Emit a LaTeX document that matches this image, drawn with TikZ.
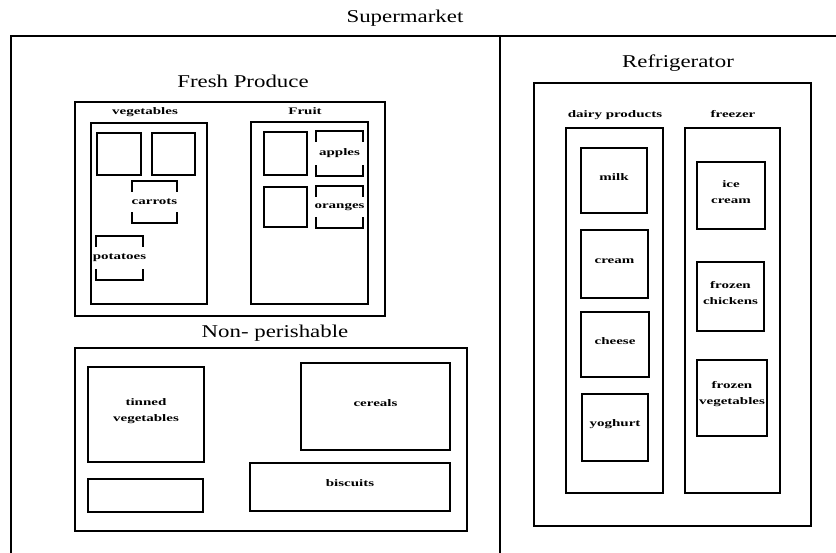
\documentclass[tikz,border=0pt]{standalone}
\usepackage{fontspec}
\setmainfont{Liberation Serif}
\newfontfamily\headfont{Liberation Serif}[FakeStretch=1.27]
\newfontfamily\tagfont{Liberation Serif}[FakeStretch=1.5]
\usetikzlibrary{fit,calc}

\tikzset{
  wall/.style={line width=1.3pt},
  bin/.style={draw, line width=2.2pt, inner sep=0pt, align=center,
    font=\tagfont\bfseries\fontsize{10}{16}\selectfont},
  openbin/.style={bin, draw=none},
  bracket/.style={line width=2.2pt},
  heading/.style={font=\headfont\fontsize{18}{20}\selectfont, inner sep=0pt, anchor=base},
  tag/.style={font=\tagfont\bfseries\fontsize{10}{16}\selectfont, inner sep=0pt, align=center},
  tagbase/.style={tag, anchor=base},
}

% a box whose sides are open in the middle, so its label breaks them
\newcommand\openside[1]{%
  \draw[bracket] ($(#1.north west)+(0,11)$) -- (#1.north west) -- (#1.north east) -- ($(#1.north east)+(0,11)$);
  \draw[bracket] ($(#1.south west)+(0,-11)$) -- (#1.south west) -- (#1.south east) -- ($(#1.south east)+(0,-11)$);}

\begin{document}
\begin{tikzpicture}[x=1pt, y=-1pt]
\useasboundingbox (0,0) rectangle (836,553);

% store walls
\coordinate (tl) at (11,36);
\coordinate (tr) at (836,36);
\coordinate (bl) at (11,553);
\coordinate (dtop) at (500,36);
\coordinate (dbot) at (500,553);
\draw[wall] (bl) -- (tl) -- (tr);
\draw[wall] (dtop) -- (dbot);
\node[heading] (super) at (405,22.5) {Supermarket};

% fresh produce
\node[heading] (freshT) at (243,88) {Fresh Produce};
\node[bin, fit={(75,102) (385,316)}] (fresh) {};
\node[tagbase] (vegT) at (145,115) {vegetables};
\node[bin, fit={(91,123) (207,304)}] (veg) {};
\node[tagbase] (fruitT) at (305,115) {Fruit};
\node[bin, fit={(251,122) (368,304)}] (fruit) {};

\node[bin, fit={(97,133) (141,175)}] (v1) {};
\node[bin, fit={(152,133) (195,175)}] (v2) {};
\node[openbin, fit={(133,182) (176,222)}] (carrots) {};
\openside{carrots}
\node[tag] at (carrots) {carrots};
\node[openbin, fit={(97,237) (142,279)}] (potatoes) {};
\openside{potatoes}
\node[tag] at (potatoes) {potatoes};

\node[bin, fit={(264,132) (307,175)}] (f1) {};
\node[openbin, fit={(317,132) (362,175)}] (apples) {};
\openside{apples}
\node[tag] at (apples) {apples};
\node[bin, fit={(264,187) (307,227)}] (f2) {};
\node[openbin, fit={(317,187) (362,227)}] (oranges) {};
\openside{oranges}
\node[tag] at (oranges) {oranges};

% non-perishable
\node[heading] (npT) at (275,338) {Non- perishable};
\node[bin, fit={(75,348) (467,531)}] (np) {};
\node[bin, fit={(88,367) (204,462)}] (tinned) {tinned\\vegetables};
\node[bin, fit={(301,363) (450,450)}] (cereals) {cereals};
\node[bin, fit={(88,479) (203,512)}] (spare) {};
\node[bin, fit={(250,463) (450,511)}] (biscuits) {biscuits};

% refrigerator
\node[heading] (fridgeT) at (678,68) {Refrigerator};
\node[bin, fit={(534,83) (811,526)}] (fridge) {};
\node[tagbase] (dairyT) at (615,118) {dairy products};
\node[bin, fit={(566,128) (663,493)}] (dairy) {};
\node[tagbase] (freezerT) at (733,118) {freezer};
\node[bin, fit={(685,128) (780,493)}] (freezer) {};

\node[bin, fit={(581,148) (647,213)}] (milk) {milk};
\node[bin, fit={(581,230) (648,298)}] (cream) {cream};
\node[bin, fit={(581,312) (649,377)}] (cheese) {cheese};
\node[bin, fit={(582,394) (648,461)}] (yoghurt) {yoghurt};

\node[bin, fit={(697,162) (765,229)}] (ice) {ice\\cream};
\node[bin, fit={(697,262) (764,331)}] (chickens) {frozen\\chickens};
\node[bin, fit={(697,360) (767,436)}] (frozenveg) {frozen\\vegetables};
\end{tikzpicture}
\end{document}
